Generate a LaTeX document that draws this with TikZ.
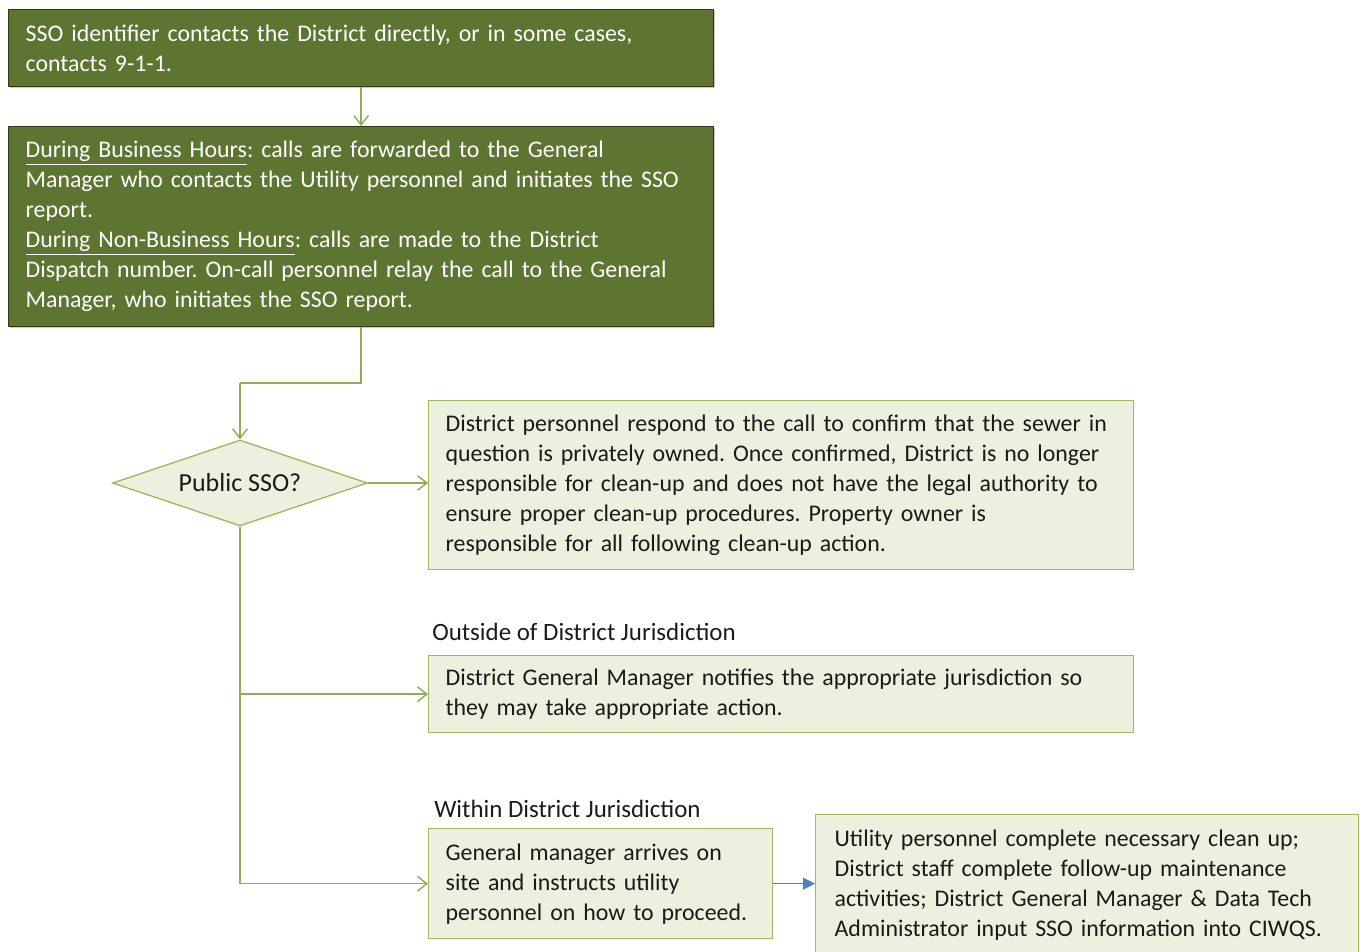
\documentclass[tikz,border=0pt]{standalone}
\usepackage{fontspec}
\setmainfont{Carlito}
\usetikzlibrary{shapes.geometric,arrows.meta,calc,shadows}
\definecolor{darkfill}{HTML}{5E7531}
\definecolor{darkline}{HTML}{2E3A18}
\definecolor{lightfill}{HTML}{EBF1DE}
\definecolor{lightline}{HTML}{9BBB59}
\definecolor{connc}{HTML}{8FAE57}
\definecolor{bluec}{HTML}{4F81BD}
\definecolor{txt}{HTML}{1A1A1A}
\tikzset{
  basebox/.style={rectangle, anchor=north west, align=left, inner xsep=12.75pt, inner ysep=0pt,
    font=\fontsize{17.9}{22.5}\selectfont\frenchspacing},
  darkbox/.style={basebox, fill=darkfill, draw=darkline, line width=1pt, text=white,
    drop shadow={shadow xshift=1pt, shadow yshift=-1pt, fill=gray!70, opacity=0.6}},
  lightbox/.style={basebox, fill=lightfill, draw=lightline, line width=1pt, text=txt},
  dec/.style={diamond, fill=lightfill, draw=lightline, line width=1pt, inner sep=0pt,
    minimum width=191.25pt, minimum height=64.5pt, shape aspect=2.97, text=txt,
    font=\fontsize{19.5}{22.5}\selectfont},
  conn/.style={draw=connc, line width=1.1pt, -{Straight Barb[length=7pt,width=11pt]}},
  plainconn/.style={draw=connc, line width=1.1pt},
  blueconn/.style={draw=bluec, line width=1.1pt, -{Triangle[length=9pt,width=9pt]}},
  lbl/.style={anchor=west, inner sep=0pt, text=txt, font=\fontsize{18.7}{22.5}\selectfont}
}
\begin{document}
\begin{tikzpicture}[x=0.75pt,y=-0.75pt]
\useasboundingbox (0,0) rectangle (1360,951);
\node[darkbox, text width=503.25pt, minimum height=57.75pt] (b1) at (8,9)
 {SSO identifier contacts the District directly, or in some cases,\\contacts 9-1-1.};
\node[darkbox, text width=503.25pt, minimum height=150pt] (b2) at (8,126)
 {\underline{During Business Hours}: calls are forwarded to the General\\
  Manager who contacts the Utility personnel and initiates the SSO\\
  report.\\
  \underline{During Non-Business Hours}: calls are made to the District\\
  Dispatch number. On-call personnel relay the call to the General\\
  Manager, who initiates the SSO report.};
\node[dec] (d) at (240,483) {Public SSO?};
\node[lightbox, text width=503.25pt, minimum height=126.75pt] (b3) at (428,400)
 {\mbox{District personnel respond to the call to confirm that the sewer in}\\
  question is privately owned. Once confirmed, District is no longer\\
  responsible for clean-up and does not have the legal authority to\\
  ensure proper clean-up procedures. Property owner is\\
  responsible for all following clean-up action.};
\node[lbl] (l1) at (432,632) {Outside of District Jurisdiction};
\node[lightbox, text width=503.25pt, minimum height=57.75pt] (b4) at (428,655)
 {District General Manager notifies the appropriate jurisdiction so\\
  they may take appropriate action.};
\node[lbl] (l2) at (434,809) {Within District Jurisdiction};
\node[lightbox, text width=232.5pt, minimum height=82.5pt] (b5) at (428,828)
 {General manager arrives on\\
  site and instructs utility\\
  \mbox{personnel on how to proceed.}};
\node[lightbox, inner xsep=14.25pt, text width=378.75pt, minimum height=105.75pt] (b6) at (815,814)
 {Utility personnel complete necessary clean up;\\
  District staff complete follow-up maintenance\\
  activities; District General Manager \& Data Tech\\
  \mbox{Administrator input SSO information into CIWQS.}};
\coordinate (j1) at (240,383);
\draw[conn] (b1.south) -- (b2.north);
\draw[plainconn] (b2.south) |- (j1);
\draw[conn] (j1) -- (d.north);
\draw[conn] (d.east) -- (d.east -| b3.west);
\draw[conn] (d.south) |- (b5.west);
\draw[conn] (d.south |- b4.west) -- (b4.west);
\draw[blueconn] (b5.east) -- (b5.east -| b6.west);
\end{tikzpicture}
\end{document}
